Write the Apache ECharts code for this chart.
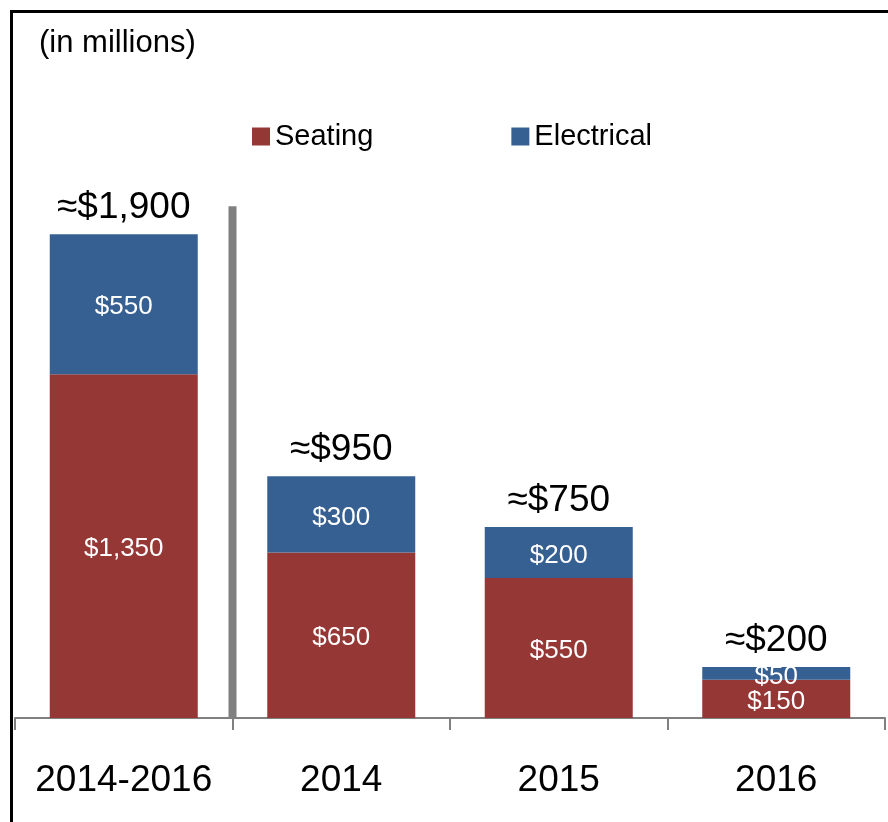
<!DOCTYPE html>
<html>
<head>
<meta charset="utf-8">
<script src="https://cdn.jsdelivr.net/npm/echarts@6/dist/echarts.min.js"></script>
<style>
  html, body { margin: 0; padding: 0; background: #fff; }
  #main { width: 888px; height: 822px; }
</style>
</head>
<body>
<div id="main"></div>
<script>
const categories = ['2014-2016', '2014', '2015', '2016']
const seating = [1350, 650, 550, 150]
const electrical = [550, 300, 200, 50]
const totals = [1900, 950, 750, 200]
const totalLabels = ['≈$1,900', '≈$950', '≈$750', '≈$200']

const fmt = v => '$' + v.toLocaleString('en-US')
const font = 'Liberation Sans, Arial, sans-serif'

const chart = echarts.init(document.getElementById('main'))
chart.setOption({
  animation: false,
  textStyle: { fontFamily: font },
  grid: { left: 15, right: 3, top: 107, bottom: 104 },
  title: {
    text: '(in millions)',
    left: 34,
    top: 23,
    textStyle: { fontSize: 31, fontWeight: 'normal', color: '#000', fontFamily: font }
  },
  legend: {
    left: 247,
    top: 117,
    itemWidth: 18,
    itemHeight: 18,
    itemGap: 138,
    icon: 'rect',
    textStyle: { fontSize: 29, color: '#000', fontFamily: font },
    data: ['Seating', 'Electrical']
  },
  xAxis: {
    type: 'category',
    data: categories,
    axisLine: { lineStyle: { color: '#808080', width: 2 } },
    axisTick: { show: true, interval: 0, length: 12, lineStyle: { color: '#808080', width: 2 } },
    axisLabel: { interval: 0, fontSize: 37, color: '#000', margin: 44, fontFamily: font }
  },
  yAxis: {
    type: 'value',
    min: 0,
    max: 2400,
    show: false,
    splitLine: { show: false }
  },
  series: [
    {
      name: 'Seating',
      type: 'bar',
      stack: 'total',
      barWidth: 148,
      data: seating,
      itemStyle: { color: '#953735' },
      label: {
        show: true,
        position: 'inside',
        offset: [0, 3],
        color: '#fff',
        fontSize: 26,
        fontFamily: font,
        formatter: p => fmt(p.value)
      }
    },
    {
      name: 'Electrical',
      type: 'bar',
      stack: 'total',
      barWidth: 148,
      data: electrical,
      itemStyle: { color: '#376092' },
      label: {
        show: true,
        position: 'inside',
        offset: [0, 3],
        color: '#fff',
        fontSize: 26,
        fontFamily: font,
        formatter: p => fmt(p.value)
      }
    },
    {
      name: 'Total',
      type: 'scatter',
      data: totals,
      symbolSize: 1,
      silent: true,
      itemStyle: { opacity: 1, color: 'rgba(0,0,0,0)' },
      label: {
        show: true,
        position: 'top',
        distance: 7,
        color: '#000',
        fontSize: 37,
        fontFamily: font,
        formatter: p => totalLabels[p.dataIndex]
      }
    }
  ]
})

// separator between the combined period and the single years, plus the frame
const xA = chart.convertToPixel({ gridIndex: 0 }, [0, 0])
const xB = chart.convertToPixel({ gridIndex: 0 }, [1, 0])
const sepX = (xA[0] + xB[0]) / 2
const sepTop = chart.convertToPixel({ gridIndex: 0 }, [0, 2010])[1]
chart.setOption({
  graphic: [
    {
      type: 'line',
      shape: { x1: sepX, y1: sepTop, x2: sepX, y2: xA[1] },
      style: { stroke: '#808080', lineWidth: 8 },
      z: 10
    },
    {
      type: 'polyline',
      shape: { points: [[11.5, 822], [11.5, 11.5], [888, 11.5]] },
      style: { stroke: '#000', lineWidth: 3, fill: null }
    }
  ]
})
</script>
</body>
</html>
